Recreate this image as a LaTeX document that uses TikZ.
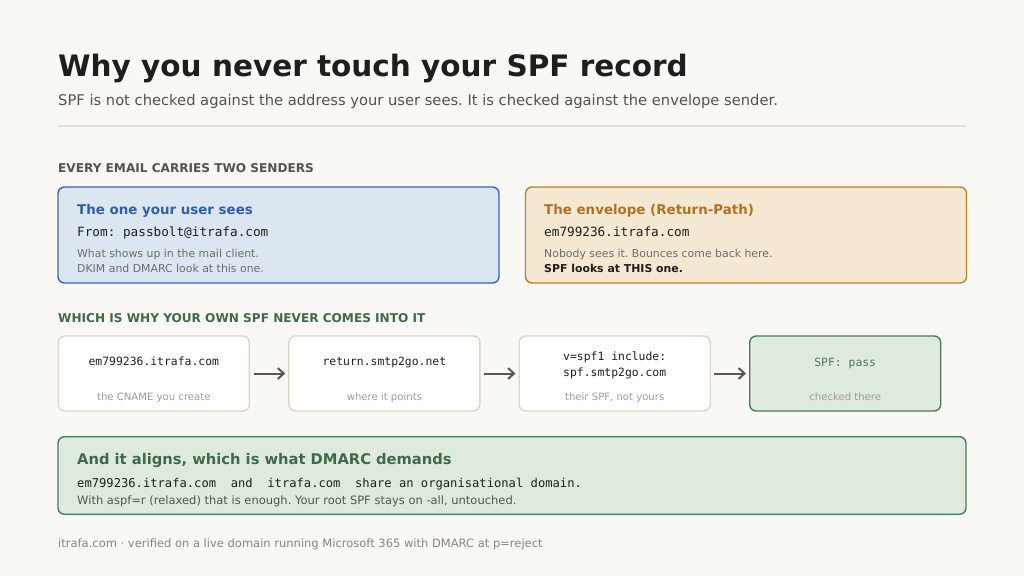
\documentclass[tikz,border=0pt]{standalone}
\usepackage{fontspec}
\setmainfont{DejaVu Sans}
\setmonofont{DejaVu Sans Mono}
\usetikzlibrary{arrows.meta,positioning}
\frenchspacing
\definecolor{itrBg}{HTML}{F9F8F4}
\definecolor{itrInk}{HTML}{1E1E1C}
\definecolor{itrGray}{HTML}{55524E}
\definecolor{itrBody}{HTML}{6E6C68}
\definecolor{itrFaint}{HTML}{A09C95}
\definecolor{itrRule}{HTML}{E2DDD3}
\definecolor{itrEdge}{HTML}{DDD6C8}
\definecolor{itrBlue}{HTML}{3865B0}
\definecolor{itrBlueTx}{HTML}{2E5FA8}
\definecolor{itrBlueFill}{HTML}{DCE6F0}
\definecolor{itrAmber}{HTML}{B8802E}
\definecolor{itrAmberTx}{HTML}{B07222}
\definecolor{itrAmberFill}{HTML}{F5E8D2}
\definecolor{itrGreen}{HTML}{4B7A56}
\definecolor{itrGreenTx}{HTML}{3E6B47}
\definecolor{itrGreenFill}{HTML}{DFEADF}
\definecolor{itrArrow}{HTML}{5A5650}
\tikzset{
  ttitle/.style={font=\bfseries\fontsize{29.5}{33}\selectfont, text=itrInk,
    inner sep=0pt, anchor=base west},
  tsub/.style={font=\fontsize{14.7}{17}\selectfont, text=itrGray,
    inner sep=0pt, anchor=base west},
  tsection/.style={font=\bfseries\fontsize{12.1}{14}\selectfont, text=itrGray,
    inner sep=0pt, anchor=base west},
  thead/.style={font=\bfseries\fontsize{13.4}{16}\selectfont,
    inner sep=0pt, anchor=base west},
  tcode/.style={font=\ttfamily\fontsize{12.7}{15}\selectfont, text=itrInk,
    inner sep=0pt, anchor=base west},
  tbody/.style={font=\fontsize{10.9}{15.2}\selectfont, text=itrBody,
    inner sep=0pt, anchor=base west, align=left},
  tpanel/.style={rounded corners=6.5pt, line width=1.4pt}
}
\begin{document}
\begin{tikzpicture}[x=1pt, y=-1pt,
  card/.style={tpanel, minimum width=441pt, minimum height=96pt},
  hop/.style={tpanel, draw=itrEdge, fill=white, minimum width=191pt,
    minimum height=75pt},
  hopcode/.style={font=\ttfamily\fontsize{11.4}{16.7}\selectfont,
    text=itrInk, inner sep=0pt, anchor=base, align=center},
  hopnote/.style={font=\fontsize{10.1}{12}\selectfont, text=itrFaint,
    inner sep=0pt, anchor=base},
  hoparrow/.style={-{Straight Barb[length=6pt, width=11pt]}, line width=2pt,
    draw=itrArrow, shorten <=3.5pt, shorten >=3pt}
]
\path[use as bounding box, fill=itrBg] (0,0) rectangle (1024,576);

% heading
\node[ttitle] (title) at (58,76.5) {Why you never touch your SPF record};
\node[tsub] (sub) at (58,105) {SPF is not checked against the address your
  user sees. It is checked against the envelope sender.};
\draw[itrRule, line width=1.4pt] (58,126) coordinate (ruleL) -- (966,126) coordinate (ruleR);

% two senders
\node[tsection] (sec1) at (58,172.5) {EVERY EMAIL CARRIES TWO SENDERS};
\node[card, draw=itrBlue, fill=itrBlueFill] (seen) at (278.5,235) {};
\node[card, draw=itrAmber, fill=itrAmberFill] (env) at (746,235) {};

\node[thead, text=itrBlueTx] (seenT) at (77,214) {The one your user sees};
\node[tcode] (seenC) at (77,236) {From: passbolt@itrafa.com};
\node[tbody] (seenB) at (77,272.5) {What shows up in the mail client.\\
  DKIM and DMARC look at this one.};

\node[thead, text=itrAmberTx] (envT) at (544,214) {The envelope (Return-Path)};
\node[tcode] (envC) at (544,236) {em799236.itrafa.com};
\node[tbody] (envB) at (544,272.5) {Nobody sees it. Bounces come back here.\\
  \textcolor{itrInk}{\bfseries SPF looks at THIS one.}};

% lookup chain
\node[tsection, text=itrGreenTx] (sec2) at (58,322.7) {WHICH IS WHY YOUR OWN SPF NEVER COMES INTO IT};
\node[hop] (h1) at (153.8,373.5) {};
\node[hop] (h2) at (384.4,373.5) {};
\node[hop] (h3) at (614.7,373.5) {};
\node[hop, draw=itrGreen, fill=itrGreenFill] (h4) at (845.2,373.5) {};

\node[hopcode] at (153.8,365.7) {em799236.itrafa.com};
\node[hopcode] at (384.4,365.7) {return.smtp2go.net};
\node[hopcode] at (614.7,376.7) {v=spf1 include:\\spf.smtp2go.com};
\node[hopcode, text=itrGreen] at (845.2,366) {SPF: pass};

\node[hopnote] at (153.8,400) {the CNAME you create};
\node[hopnote] at (384.4,400) {where it points};
\node[hopnote] at (614.7,400) {their SPF, not yours};
\node[hopnote] at (845.2,400) {checked there};

\draw[hoparrow] (h1) -- (h2);
\draw[hoparrow] (h2) -- (h3);
\draw[hoparrow] (h3) -- (h4);

% alignment
\node[tpanel, draw=itrGreen, fill=itrGreenFill, minimum width=908pt,
  minimum height=77.5pt] (align) at (512,475.5) {};
\node[thead, text=itrGreenTx, font=\bfseries\fontsize{14.7}{17}\selectfont]
  (alignT) at (77,464) {And it aligns, which is what DMARC demands};
\node[tcode, font=\ttfamily\fontsize{12.15}{15}\selectfont] (alignC) at (77,487)
  {em799236.itrafa.com\ \ and\ \ itrafa.com\ \ share an organisational domain.};
\node[tbody, text=itrGray, font=\fontsize{11.5}{14}\selectfont] (alignB) at (77,504.5)
  {With aspf=r (relaxed) that is enough. Your root SPF stays on -all, untouched.};

% footer
\node[tbody, text=itrFaint!85!black, font=\fontsize{11.5}{14}\selectfont] (foot)
  at (58,547) {itrafa.com · verified on a live domain running Microsoft 365
  with DMARC at p=reject};
\end{tikzpicture}
\end{document}
